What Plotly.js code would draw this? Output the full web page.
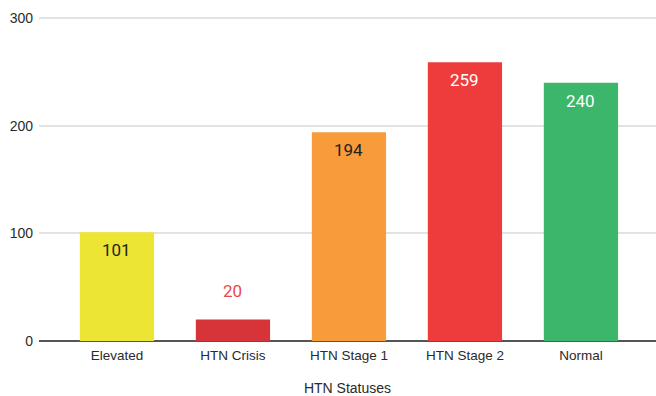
<!DOCTYPE html>
<html>
<head>
<meta charset="utf-8">
<script src="https://cdn.plot.ly/plotly-3.0.1.min.js"></script>
<style>
  html, body { margin: 0; padding: 0; background: #fff; }
  #chart { width: 656px; height: 396px; }
</style>
</head>
<body>
<div id="chart"></div>
<script>
// HTN status counts
const statuses = ["Elevated", "HTN Crisis", "HTN Stage 1", "HTN Stage 2", "Normal"];
const counts = [101, 20, 194, 259, 240];
const barColors = ["#ECE533", "#D7343A", "#F79B3B", "#EE3C3C", "#3CB66A"];
const labelColors = ["#222222", "#E84A4A", "#222222", "#FFFFFF", "#FFFFFF"];
const labelInside = [true, false, true, true, true];
const yTicks = [0, 100, 200, 300];

const trace = {
  type: "bar",
  x: statuses,
  y: counts,
  marker: { color: barColors, line: { width: 0 } },
  hoverinfo: "x+y"
};

// value labels: inside near the top of tall bars, above short ones
const annotations = statuses.map((s, i) => ({
  x: s,
  y: counts[i],
  xref: "x",
  yref: "y",
  text: String(counts[i]),
  showarrow: false,
  yanchor: labelInside[i] ? "top" : "bottom",
  yshift: labelInside[i] ? -6 : 16,
  font: { family: "Roboto, 'Liberation Sans', sans-serif", size: 17, color: labelColors[i] }
}));

const axisFont = "'Liberation Sans', Arial, sans-serif";

const layout = {
  width: 656,
  height: 396,
  margin: { l: 39, r: 0, t: 17, b: 55 },
  paper_bgcolor: "#ffffff",
  plot_bgcolor: "#ffffff",
  showlegend: false,
  bargap: 0.36,
  xaxis: {
    type: "category",
    range: [-0.672, 4.647],
    showgrid: false,
    showline: false,
    ticks: "",
    ticklabelstandoff: 4,
    tickfont: { family: axisFont, size: 13.5, color: "#2a2a2a" },
    title: {
      text: "HTN Statuses",
      font: { family: axisFont, size: 14, color: "#2a2a2a" },
      standoff: 24
    },
    fixedrange: true
  },
  yaxis: {
    range: [0, 301],
    tickvals: yTicks,
    ticktext: yTicks.map(String),
    showgrid: true,
    gridcolor: "#E3E3E3",
    gridwidth: 2,
    zeroline: true,
    zerolinecolor: "#555555",
    zerolinewidth: 1.5,
    showline: false,
    ticks: "",
    ticklabelstandoff: 5,
    tickfont: { family: axisFont, size: 14, color: "#2a2a2a" },
    fixedrange: true
  },
  annotations: annotations
};

Plotly.newPlot("chart", [trace], layout, { displayModeBar: false, staticPlot: true });
</script>
</body>
</html>
